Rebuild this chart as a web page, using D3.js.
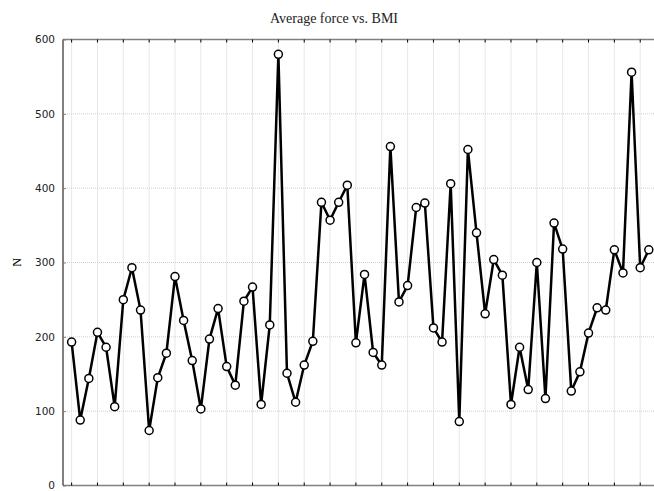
<!DOCTYPE html>
<html>
<head>
<meta charset="utf-8">
<script src="https://cdn.jsdelivr.net/npm/d3@7"></script>
<style>
  body { margin: 0; background: #fff; }
  svg { display: block; }
</style>
</head>
<body>
<div id="chart"></div>
<script>
// average force (N) per subject, ordered by BMI
const forceValues = [
  193, 88, 144, 206, 186, 106, 250, 293, 236, 74,
  145, 178, 281, 222, 168, 103, 197, 238, 160, 135,
  248, 267, 109, 216, 580, 151, 112, 162, 194, 381,
  357, 381, 404, 192, 284, 179, 162, 456, 247, 269,
  374, 380, 212, 193, 406, 86, 452, 340, 231, 304,
  283, 109, 186, 129, 300, 117, 353, 318, 127, 153,
  205, 239, 236, 317, 286, 556, 293, 317
];
const yTicks = [0, 100, 200, 300, 400, 500, 600];
const titleText = 'Average force vs. BMI';
const yLabel = 'N';

const outerWidth = 654;
const outerHeight = 491;
const margin = { top: 39.5, left: 63, bottom: 485.5 };

const svg = d3.select('#chart')
  .append('svg')
  .attr('width', outerWidth)
  .attr('height', outerHeight);

const x = d3.scaleLinear()
  .domain([-1, 68])
  .range([margin.left, margin.left + 69 * 8.615]);

const y = d3.scaleLinear()
  .domain([0, 600])
  .range([margin.bottom, margin.top]);

const right = outerWidth;

// vertical grid, every third point
const xGrid = d3.range(0, forceValues.length, 3);

svg.append('g')
  .attr('class', 'grid')
  .selectAll('line')
  .data(xGrid)
  .enter()
  .append('line')
  .attr('x1', d => x(d))
  .attr('x2', d => x(d))
  .attr('y1', y(600))
  .attr('y2', y(0))
  .style('stroke', '#d0d0d0')
  .style('stroke-width', 1)
  .style('stroke-dasharray', '1,1');

svg.append('g')
  .attr('class', 'grid')
  .selectAll('line')
  .data(yTicks.filter(d => d > 0 && d < 600))
  .enter()
  .append('line')
  .attr('x1', margin.left)
  .attr('x2', right)
  .attr('y1', d => y(d))
  .attr('y2', d => y(d))
  .style('stroke', '#d0d0d0')
  .style('stroke-width', 1)
  .style('stroke-dasharray', '1,1');

// frame
svg.append('line')
  .attr('x1', margin.left).attr('x2', right)
  .attr('y1', y(600)).attr('y2', y(600))
  .style('stroke', '#808080').style('stroke-width', 1.5);
svg.append('line')
  .attr('x1', margin.left).attr('x2', right)
  .attr('y1', y(0)).attr('y2', y(0))
  .style('stroke', '#808080').style('stroke-width', 1.5);
svg.append('line')
  .attr('x1', margin.left).attr('x2', margin.left)
  .attr('y1', y(600)).attr('y2', y(0))
  .style('stroke', '#000').style('stroke-width', 1);

// ticks on top and bottom
[y(600), y(0)].forEach((ty, k) => {
  svg.append('g')
    .selectAll('line')
    .data(xGrid)
    .enter()
    .append('line')
    .attr('x1', d => x(d))
    .attr('x2', d => x(d))
    .attr('y1', ty)
    .attr('y2', k === 0 ? ty + 3 : ty - 3)
    .style('stroke', '#000')
    .style('stroke-width', 1);
});

// y axis
const yAxis = d3.axisLeft(y).tickValues(yTicks).tickSize(-3).tickPadding(8);
const gy = svg.append('g')
  .attr('transform', `translate(${margin.left},0)`)
  .call(yAxis);
gy.select('.domain').remove();
gy.selectAll('.tick line').style('stroke', '#808080');
gy.selectAll('.tick text')
  .style('font-family', '"DejaVu Sans", sans-serif')
  .style('font-size', '10.5px')
  .style('fill', '#222');

// line + markers
const line = d3.line()
  .x((d, i) => x(i))
  .y(d => y(d));

svg.append('path')
  .datum(forceValues)
  .attr('d', line)
  .style('fill', 'none')
  .style('stroke', '#000')
  .style('stroke-width', 2.5)
  .style('stroke-linejoin', 'miter');

svg.append('g')
  .attr('class', 'points')
  .selectAll('circle')
  .data(forceValues)
  .enter()
  .append('circle')
  .attr('cx', (d, i) => x(i))
  .attr('cy', d => y(d))
  .attr('r', 4)
  .style('fill', '#fff')
  .style('stroke', '#000')
  .style('stroke-width', 1.5);

// title and label
svg.append('text')
  .attr('x', 334)
  .attr('y', 23)
  .attr('text-anchor', 'middle')
  .style('font-family', '"Liberation Serif", serif')
  .style('font-size', '14px')
  .style('fill', '#222')
  .text(titleText);

svg.append('text')
  .attr('transform', `translate(21, ${y(300)}) rotate(-90)`)
  .attr('text-anchor', 'middle')
  .style('font-family', '"Liberation Serif", serif')
  .style('font-size', '12px')
  .text(yLabel);
</script>
</body>
</html>
